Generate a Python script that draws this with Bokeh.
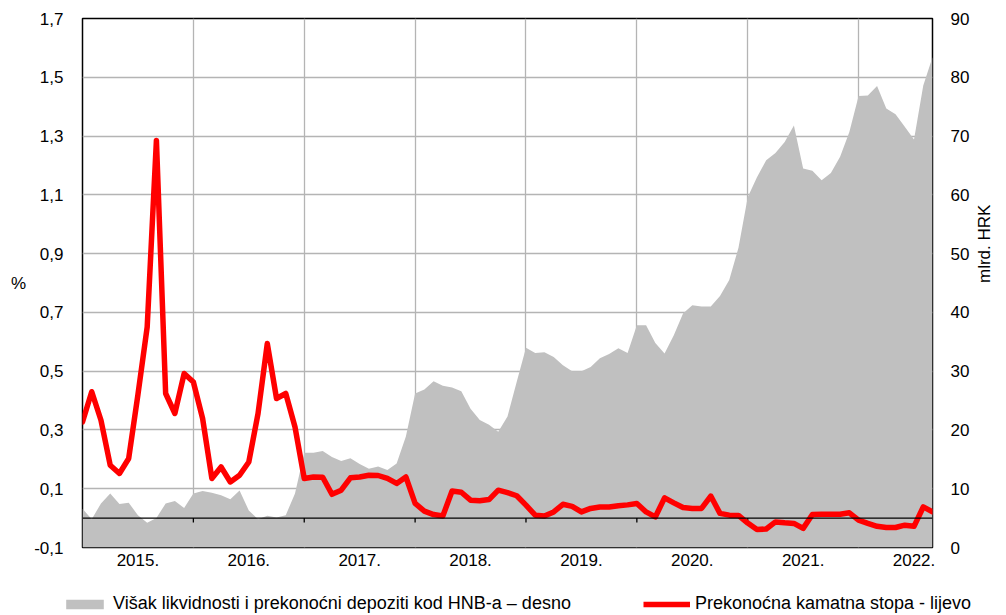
import math
from bokeh.plotting import figure
from bokeh.layouts import column
from bokeh.models import (Range1d, LinearAxis, FixedTicker, Legend, LegendItem,
                          Span, CustomJSTickFormatter)
from bokeh.embed import file_html
from bokeh.resources import INLINE

# ---------------- data (monthly, Jan 2015 - Sep 2022) ----------------
year_labels = ["2015.", "2016.", "2017.", "2018.", "2019.", "2020.", "2021.", "2022."]

# overnight interest rate, % (left axis)
rate = [0.327, 0.43, 0.333, 0.18, 0.152, 0.203, 0.42, 0.65, 1.285, 0.424,
        0.356, 0.492, 0.463, 0.339, 0.135, 0.174, 0.123, 0.146, 0.191, 0.356,
        0.594, 0.407, 0.424, 0.31, 0.135, 0.14, 0.139, 0.081, 0.095, 0.137,
        0.14, 0.146, 0.145, 0.135, 0.118, 0.14, 0.05, 0.024, 0.012, 0.007,
        0.092, 0.088, 0.061, 0.059, 0.063, 0.095, 0.087, 0.076, 0.044, 0.01,
        0.007, 0.021, 0.047, 0.04, 0.021, 0.033, 0.038, 0.038, 0.042, 0.045,
        0.05, 0.021, 0.004, 0.069, 0.052, 0.036, 0.033, 0.033, 0.075, 0.016,
        0.01, 0.009, -0.017, -0.039, -0.037, -0.013, -0.016, -0.018, -0.035, 0.012,
        0.013, 0.013, 0.013, 0.018, -0.007, -0.018, -0.028, -0.032, -0.032, -0.024,
        -0.028, 0.038, 0.021]

# excess liquidity and overnight deposits, bn HRK (right axis)
liquidity = [6.6, 4.8, 7.5, 9.2, 7.4, 7.6, 5.5, 4.2, 5.0, 7.5,
             7.9, 6.7, 9.2, 9.6, 9.3, 8.9, 8.2, 9.7, 6.3, 4.8,
             5.4, 5.1, 5.5, 9.2, 16.1, 16.1, 16.4, 15.4, 14.7, 15.2,
             14.2, 13.4, 13.8, 13.2, 14.3, 18.9, 26.2, 26.9, 28.3, 27.5,
             27.2, 26.6, 23.6, 21.7, 20.9, 19.7, 22.3, 28.2, 34.0, 33.1,
             33.2, 32.4, 31.0, 30.0, 30.0, 30.7, 32.2, 32.9, 33.9, 33.1,
             37.8, 37.8, 34.8, 33.0, 36.1, 39.8, 41.2, 41.0, 41.0, 42.8,
             45.5, 51.0, 59.6, 63.0, 65.9, 67.1, 69.0, 71.8, 64.5, 64.1,
             62.5, 63.7, 66.5, 70.7, 76.8, 76.9, 78.5, 74.7, 73.7, 71.6,
             69.4, 78.6, 83.4]

left_ticks = [-0.1, 0.1, 0.3, 0.5, 0.7, 0.9, 1.1, 1.3, 1.5, 1.7]
right_ticks = [0, 10, 20, 30, 40, 50, 60, 70, 80, 90]

label_area = "Višak likvidnosti i prekonoćni depoziti kod HNB-a – desno"
label_line = "Prekonoćna kamatna stopa - lijevo"

# ---------------- derived positions ----------------
months = list(range(len(rate)))
year_starts = [m for m in months if m % 12 == 0 and m > 0]
year_mids = [12 * k + 6 for k in range(len(year_labels))]

FONT = "Liberation Sans"
GRAY = "#C0C0C0"
RED = "#FF0000"

p = figure(width=1006, height=585, output_backend="svg", toolbar_location=None,
           x_range=Range1d(months[0], months[-1]),
           y_range=Range1d(left_ticks[0], left_ticks[-1]),
           min_border_left=82, min_border_right=72, min_border_top=18,
           min_border_bottom=38)
p.frame_align = False
p.extra_y_ranges = {"right": Range1d(right_ticks[0], right_ticks[-1])}

p.outline_line_color = "black"
p.outline_line_width = 1.5
p.background_fill_color = "white"
p.border_fill_color = "white"

# grids
p.xgrid.ticker = FixedTicker(ticks=year_starts)
p.ygrid.ticker = FixedTicker(ticks=left_ticks[1:-1])
for g in (p.xgrid, p.ygrid):
    g.grid_line_color = "#B4B4B4"
    g.grid_line_width = 1.3

# area (right axis)
p.varea(x=months, y1=0, y2=liquidity, y_range_name="right", fill_color=GRAY)

# zero line with small year ticks
p.add_layout(Span(location=0, dimension="width", line_color="black", line_width=1.3))
p.segment(x0=year_starts, y0=[0] * len(year_starts), x1=year_starts,
          y1=[-0.015] * len(year_starts), line_color="black", line_width=1.3)

# red line (left axis)
p.line(months, rate, line_color=RED, line_width=5.5, line_join="round", line_cap="round")


def style_axis(ax, standoff):
    ax.major_tick_line_color = None
    ax.minor_tick_line_color = None
    ax.major_tick_out = 0
    ax.major_tick_in = 0
    ax.minor_tick_out = 0
    ax.minor_tick_in = 0
    ax.axis_line_color = None
    ax.major_label_standoff = standoff
    ax.major_label_text_font = FONT
    ax.major_label_text_font_size = "17px"
    ax.major_label_text_color = "black"
    ax.axis_label_text_font = FONT
    ax.axis_label_text_font_style = "normal"
    ax.axis_label_text_font_size = "17px"
    ax.axis_label_text_color = "black"


# bottom axis
xa = p.xaxis[0]
xa.ticker = FixedTicker(ticks=year_mids)
xa.major_label_overrides = {m: lab for m, lab in zip(year_mids, year_labels)}
style_axis(xa, 6)

# left axis
ya = p.yaxis[0]
ya.ticker = FixedTicker(ticks=left_ticks)
ya.formatter = CustomJSTickFormatter(code="return tick.toFixed(1).replace('.', ',');")
style_axis(ya, 19)
ya.axis_label = "%"
ya.axis_label_orientation = "horizontal"
ya.axis_label_standoff = 5

# right axis
ra = LinearAxis(y_range_name="right", ticker=FixedTicker(ticks=right_ticks))
style_axis(ra, 18)
ra.axis_label = "mlrd. HRK"
ra.axis_label_orientation = math.pi / 2
ra.axis_label_standoff = 12
p.add_layout(ra, "right")

# ---------------- legend strip below the chart ----------------
# key renderers use the series but lie outside this strip's visible range
lg = figure(width=1006, height=30, output_backend="svg", toolbar_location=None,
            x_axis_location=None, y_axis_location=None,
            x_range=Range1d(0, 1006), y_range=Range1d(1000, 1030),
            min_border_left=0, min_border_right=0, min_border_top=0,
            min_border_bottom=0)
lg.frame_align = False
lg.outline_line_color = None
lg.xgrid.visible = False
lg.ygrid.visible = False
r_area = lg.varea(x=months, y1=0, y2=liquidity, fill_color=GRAY)
r_line = lg.line(x=months, y=rate, line_color=RED, line_width=5.5)

legend = Legend(items=[LegendItem(label=label_area, renderers=[r_area]),
                       LegendItem(label=label_line, renderers=[r_line])],
                orientation="horizontal", location=(61, 1),
                glyph_width=47, glyph_height=12, label_standoff=5, spacing=72,
                padding=0, margin=0, border_line_color=None,
                background_fill_alpha=0,
                label_text_font=FONT, label_text_font_size="18px",
                label_text_color="black")
lg.add_layout(legend, "center")

layout = column(p, lg, spacing=0)
open("out.html", "w").write(file_html(layout, INLINE))
